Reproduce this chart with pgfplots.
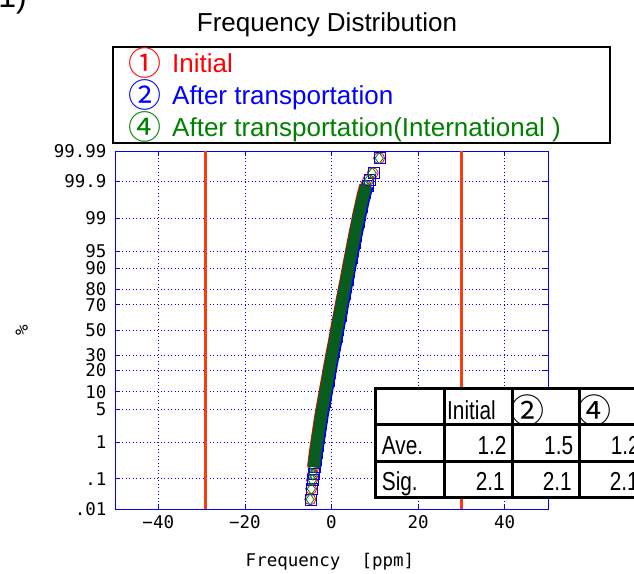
\documentclass[border=0pt]{standalone}
\usepackage{fontspec}
\setmainfont{Liberation Sans}
\newfontfamily\monofont{DejaVu Sans Mono}
\newfontfamily\narrowfont[FakeStretch=0.8]{Liberation Sans}
\newfontfamily\cjk{Noto Sans CJK JP}
\usepackage{pgfplots}
\usepackage{pgfplotstable}
\pgfplotsset{compat=1.18}
\definecolor{ored}{RGB}{250,60,20}
\definecolor{mgreen}{RGB}{0,128,0}
\definecolor{bgreen}{RGB}{8,92,30}
\definecolor{lred}{RGB}{255,0,0}
\definecolor{lblue}{RGB}{0,0,255}

% series 1: Initial (z = normal quantile, x = ppm)
\pgfplotstableread{
z x
-3.52 -4.90
-3.30 -4.70
-3.12 -4.50
-3.00 -4.30
-2.85 -4.15
-2.70 -3.95
-2.55 -3.75
-2.40 -3.50
-2.25 -3.25
-2.10 -3.00
-1.95 -2.75
-1.80 -2.50
-1.65 -2.20
-1.50 -1.90
-1.35 -1.60
-1.20 -1.30
-1.05 -1.00
-0.90 -0.70
-0.75 -0.40
-0.60 -0.10
-0.45 0.20
-0.30 0.55
-0.15 0.85
0.00 1.15
0.15 1.45
0.30 1.80
0.45 2.10
0.60 2.40
0.75 2.75
0.90 3.05
1.05 3.40
1.20 3.70
1.35 4.00
1.50 4.35
1.65 4.65
1.80 5.00
1.95 5.30
2.10 5.65
2.25 6.00
2.40 6.30
2.55 6.70
2.70 7.05
2.85 7.45
3.00 7.90
3.12 8.50
3.26 9.50
3.57 11.00
}\sone

% series 2: After transportation
\pgfplotstableread{
z x
-3.52 -4.75
-3.30 -4.50
-3.12 -4.30
-3.00 -4.10
-2.85 -3.90
-2.70 -3.70
-2.55 -3.45
-2.40 -3.20
-2.25 -2.95
-2.10 -2.70
-1.95 -2.45
-1.80 -2.20
-1.65 -1.90
-1.50 -1.60
-1.35 -1.30
-1.20 -1.00
-1.05 -0.70
-0.90 -0.40
-0.75 -0.10
-0.60 0.20
-0.45 0.50
-0.30 0.85
-0.15 1.15
0.00 1.45
0.15 1.75
0.30 2.10
0.45 2.40
0.60 2.70
0.75 3.05
0.90 3.35
1.05 3.70
1.20 4.00
1.35 4.30
1.50 4.65
1.65 4.95
1.80 5.30
1.95 5.60
2.10 5.95
2.25 6.30
2.40 6.60
2.55 7.00
2.70 7.35
2.85 7.75
3.00 8.30
3.12 8.90
3.26 9.80
3.57 11.20
}\stwo

% series 4: After transportation (International)
\pgfplotstableread{
z x
-3.52 -4.95
-3.30 -4.65
-3.12 -4.45
-3.00 -4.30
-2.85 -4.10
-2.70 -3.90
-2.55 -3.70
-2.40 -3.45
-2.25 -3.20
-2.10 -2.95
-1.95 -2.70
-1.80 -2.45
-1.65 -2.15
-1.50 -1.85
-1.35 -1.55
-1.20 -1.25
-1.05 -0.95
-0.90 -0.65
-0.75 -0.35
-0.60 -0.05
-0.45 0.25
-0.30 0.55
-0.15 0.90
0.00 1.20
0.15 1.50
0.30 1.80
0.45 2.15
0.60 2.45
0.75 2.75
0.90 3.10
1.05 3.40
1.20 3.75
1.35 4.05
1.50 4.35
1.65 4.70
1.80 5.00
1.95 5.35
2.10 5.65
2.25 6.00
2.40 6.35
2.55 6.70
2.70 7.10
2.85 7.50
3.00 8.00
3.12 8.60
3.26 9.40
3.57 11.00
}\sthree

\begin{document}
\begin{tikzpicture}[x=1pt,y=1pt]
\useasboundingbox (0,0) rectangle (634,573);
\clip (0,0) rectangle (634,573);
\begin{axis}[
  at={(115pt,64pt)}, anchor=south west,
  scale only axis, width=433pt, height=358pt,
  xmin=-50, xmax=50, ymin=-3.7191, ymax=3.7191,
  axis line style={lblue, line width=0.8pt},
  xtick={-40,-20,0,20,40},
  xticklabels={−40,−20,0,20,40},
  ytick={-3.7190,-3.0902,-2.3263,-1.6449,-1.2816,-0.8416,-0.5244,0,0.5244,0.8416,1.2816,1.6449,2.3263,3.0902,3.7190},
  yticklabels={.01,.1,1,5,10,20,30,50,70,80,90,95,99,99.9,99.99},
  grid=major,
  major grid style={lblue, line width=0.6pt, dash pattern=on 1pt off 2.5pt},
  tick style={lblue, line width=0.6pt},
  tick align=inside, major tick length=5pt,
  ticklabel style={font=\monofont\fontsize{17.5}{20}\selectfont, text=black},
  yticklabel style={xshift=-5pt},
  xticklabel style={yshift=-3pt},
  clip=true, clip marker paths=true,
]
\addplot[ored, line width=3pt, forget plot] coordinates {(-29,-3.7191) (-29,3.7191)};
\addplot[ored, line width=3pt, forget plot] coordinates {(30,-3.7191) (30,3.7191)};
\addplot[only marks, mark=o, lred, mark size=5.5pt, line width=0.8pt] table[x=x,y=z] {\sone};
\addplot[only marks, mark=square, lblue, mark size=5.5pt, line width=0.8pt] table[x=x,y=z] {\stwo};
\addplot[only marks, mark=diamond, mgreen, mark size=5.5pt, line width=0.8pt] table[x=x,y=z] {\sthree};
\addplot[lred, line width=13pt, line join=round, no marks, skip coords between index={0}{4}, skip coords between index={44}{47}] table[x=x,y=z] {\sone};
\addplot[lblue, line width=13pt, line join=round, no marks, skip coords between index={0}{4}, skip coords between index={44}{47}] table[x=x,y=z] {\stwo};
\addplot[bgreen, line width=12pt, line join=round, no marks, skip coords between index={0}{4}, skip coords between index={44}{47}] table[x=x,y=z] {\sthree};
\end{axis}

% partial panel label
\node[anchor=base east, inner sep=0] at (27,565) {\fontsize{32}{36}\selectfont (1)};
% title
\node[anchor=base, inner sep=0] at (327,541) {\fontsize{26}{30}\selectfont Frequency Distribution};
% axis labels
\node[anchor=base, inner sep=0] at (330,7) {\monofont\fontsize{17.5}{20}\selectfont Frequency\ \ [ppm]};
\node[rotate=90, inner sep=0] at (21.7,243) {\monofont\fontsize{17.5}{20}\selectfont \%};

% legend
\draw[line width=1.5pt, fill=white] (113,430) rectangle (610,526);
\node[lred, inner sep=0] at (145,510) {\cjk\fontsize{33}{33}\selectfont ①};
\node[lred, anchor=base west, inner sep=0] at (172,500.5) {\fontsize{26}{30}\selectfont Initial};
\node[lblue, inner sep=0] at (145,478) {\cjk\fontsize{33}{33}\selectfont ②};
\node[lblue, anchor=base west, inner sep=0] at (172,468.5) {\fontsize{26}{30}\selectfont After transportation};
\node[mgreen, inner sep=0] at (145,446) {\cjk\fontsize{33}{33}\selectfont ④};
\node[mgreen, anchor=base west, inner sep=0] at (172,436.5) {\fontsize{26}{30}\selectfont After transportation(International )};

% statistics table
\fill[white] (375.7,75.3) rectangle (646,184.7);
\draw[line width=3pt] (375.7,75.3) rectangle (646,184.7);
\draw[line width=3pt] (375.7,148.7) -- (646,148.7);
\draw[line width=3pt] (375.7,112) -- (646,112);
\draw[line width=3pt] (444,75.3) -- (444,184.7);
\draw[line width=3pt] (512.7,75.3) -- (512.7,184.7);
\draw[line width=3pt] (579.3,75.3) -- (579.3,184.7);
\node[anchor=base west, inner sep=0] at (447,153.7) {\narrowfont\fontsize{26}{30}\selectfont Initial};
\node[inner sep=0] at (527,162) {\cjk\fontsize{34}{34}\selectfont ②};
\node[inner sep=0] at (594,162) {\cjk\fontsize{34}{34}\selectfont ④};
\node[anchor=base west, inner sep=0] at (381.7,118) {\narrowfont\fontsize{26}{30}\selectfont Ave.};
\node[anchor=base east, inner sep=0] at (506.7,118) {\narrowfont\fontsize{26}{30}\selectfont 1.2};
\node[anchor=base east, inner sep=0] at (573.3,118) {\narrowfont\fontsize{26}{30}\selectfont 1.5};
\node[anchor=base east, inner sep=0] at (640,118) {\narrowfont\fontsize{26}{30}\selectfont 1.2};
\node[anchor=base west, inner sep=0] at (381.7,83) {\narrowfont\fontsize{26}{30}\selectfont Sig.};
\node[anchor=base east, inner sep=0] at (505,83) {\narrowfont\fontsize{26}{30}\selectfont 2.1};
\node[anchor=base east, inner sep=0] at (572,83) {\narrowfont\fontsize{26}{30}\selectfont 2.1};
\node[anchor=base east, inner sep=0] at (639,83) {\narrowfont\fontsize{26}{30}\selectfont 2.1};
\end{tikzpicture}
\end{document}
